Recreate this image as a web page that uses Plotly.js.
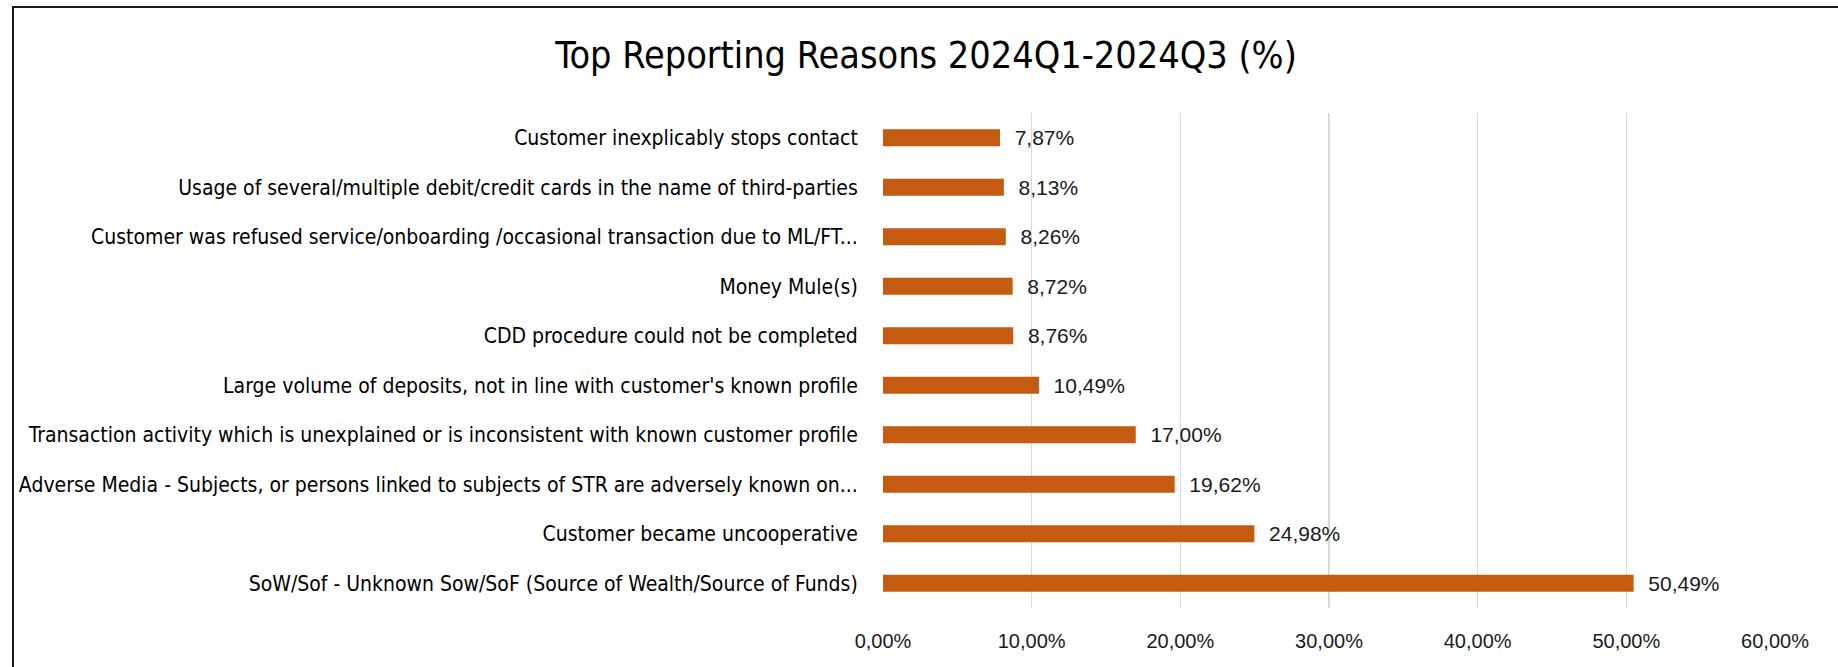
<!DOCTYPE html>
<html>
<head>
<meta charset="utf-8">
<script src="https://cdn.plot.ly/plotly-3.0.1.min.js"></script>
<style>
  html, body { margin: 0; padding: 0; background: #fff; }
  #chart { width: 1838px; height: 667px; position: relative; }
  #frame { position: absolute; left: 12px; top: 6px; right: -4px; bottom: -4px;
           border-top: 2px solid #1a1a1a; border-left: 2px solid #1a1a1a; pointer-events: none; }
</style>
</head>
<body>
<div id="chart"></div>
<div id="frame"></div>
<script>
const categories = [
  "Customer inexplicably stops contact",
  "Usage of several/multiple debit/credit cards in the name of third-parties",
  "Customer was refused service/onboarding /occasional transaction due to ML/FT...",
  "Money Mule(s)",
  "CDD procedure could not be completed",
  "Large volume of deposits, not in line with customer's known profile",
  "Transaction activity which is unexplained or is inconsistent with known customer profile",
  "Adverse Media - Subjects, or persons linked to subjects of STR are adversely known on...",
  "Customer became uncooperative",
  "SoW/Sof - Unknown Sow/SoF (Source of Wealth/Source of Funds)"
];
const sharePct = [7.87, 8.13, 8.26, 8.72, 8.76, 10.49, 17.00, 19.62, 24.98, 50.49];
const tickValues = [0, 10, 20, 30, 40, 50, 60];
const tickLabels = ["0,00%", "10,00%", "20,00%", "30,00%", "40,00%", "50,00%", "60,00%"];
const chartTitle = "Top Reporting Reasons 2024Q1-2024Q3 (%)";

const narrow = '"Liberation Sans Narrow", "DejaVu Sans Condensed", "Arial Narrow", sans-serif';
const sans = '"Liberation Sans", Arial, sans-serif';

const trace = {
  type: 'bar',
  orientation: 'h',
  y: categories,
  x: sharePct,
  marker: { color: '#C55A11', line: { width: 0 } },
  texttemplate: '\u00a0\u00a0%{x:.2f}%',
  textposition: 'outside',
  constraintext: 'none',
  textfont: { family: sans, size: 21, color: '#1a1a1a' },
  cliponaxis: false,
  hoverinfo: 'skip'
};

const layout = {
  width: 1838,
  height: 667,
  paper_bgcolor: '#fff',
  plot_bgcolor: '#fff',
  separators: ',.',
  showlegend: false,
  bargap: 0.66,
  margin: { l: 883, r: 63, t: 113, b: 59 },
  title: {
    text: chartTitle,
    font: { family: narrow, size: 37.5, color: '#000' },
    xref: 'container', x: 926 / 1838, xanchor: 'center',
    yref: 'container', y: 1 - 55 / 667, yanchor: 'middle'
  },
  xaxis: {
    range: [0, 60],
    tickmode: 'array',
    tickvals: tickValues,
    ticktext: tickLabels,
    showgrid: true,
    gridcolor: '#d9d9d9',
    gridwidth: 1.5,
    zeroline: false,
    showline: false,
    ticks: 'outside',
    ticklen: 15,
    tickcolor: 'rgba(0,0,0,0)',
    tickfont: { family: sans, size: 20, color: '#1a1a1a' },
    fixedrange: true
  },
  yaxis: {
    type: 'category',
    autorange: 'reversed',
    showgrid: false,
    zeroline: false,
    showline: false,
    ticks: 'outside',
    ticklen: 20,
    tickcolor: 'rgba(0,0,0,0)',
    tickfont: { family: narrow, size: 21, color: '#000' },
    automargin: false,
    fixedrange: true
  }
};

Plotly.newPlot('chart', [trace], layout, { displayModeBar: false, staticPlot: true });
</script>
</body>
</html>
